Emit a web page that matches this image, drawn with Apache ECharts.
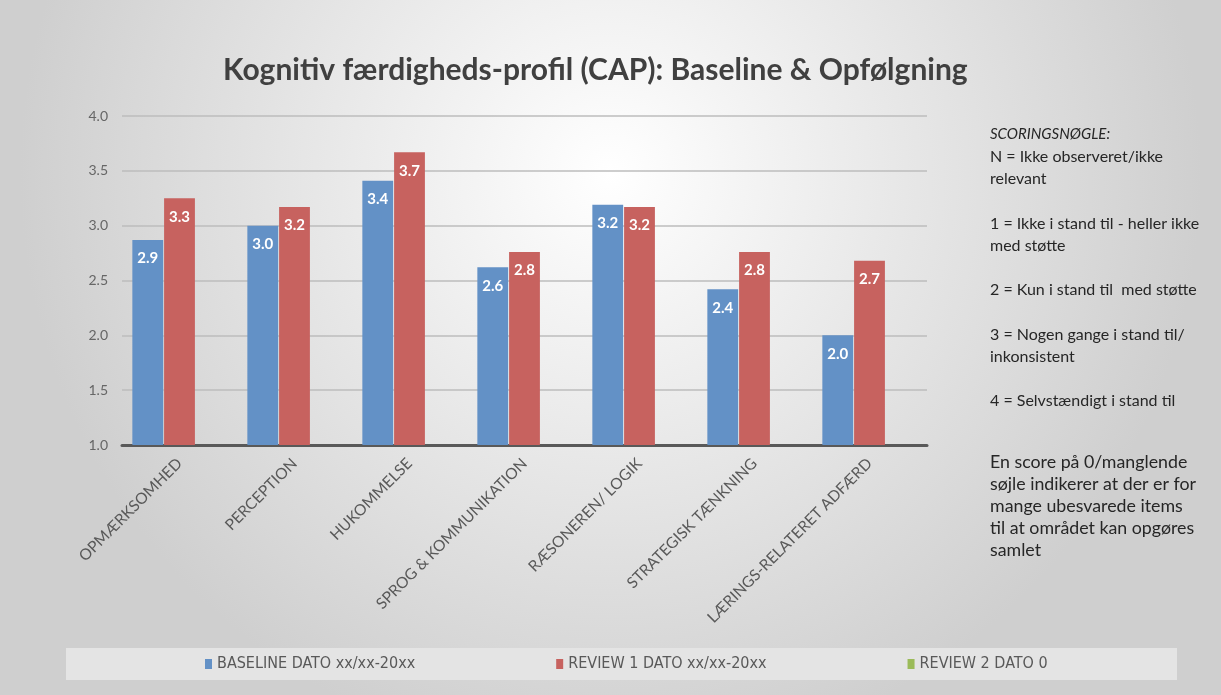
<!DOCTYPE html>
<html>
<head>
<meta charset="utf-8">
<script src="https://cdn.jsdelivr.net/npm/echarts@6/dist/echarts.min.js"></script>
<style>
html, body { margin: 0; padding: 0; }
#main { width: 1221px; height: 695px; }
</style>
</head>
<body>
<div id="main"></div>
<script>
var categories = ['OPMÆRKSOMHED', 'PERCEPTION', 'HUKOMMELSE', 'SPROG & KOMMUNIKATION',
    'RÆSONEREN/ LOGIK', 'STRATEGISK TÆNKNING', 'LÆRINGS-RELATERET ADFÆRD'];
var baseline = [2.87, 3.0, 3.41, 2.62, 3.19, 2.42, 2.0];
var review1 = [3.25, 3.17, 3.67, 2.76, 3.17, 2.76, 2.68];
var review2 = [null, null, null, null, null, null, null];
var seriesNames = ['BASELINE DATO xx/xx-20xx', 'REVIEW 1 DATO xx/xx-20xx', 'REVIEW 2 DATO 0'];
var yTicks = [1.0, 4.0, 0.5]; // min, max, interval

var keyLines = [
    'N = Ikke observeret/ikke',
    'relevant',
    '',
    '1 = Ikke i stand til - heller ikke',
    'med støtte',
    '',
    '2 = Kun i stand til  med støtte',
    '',
    '3 = Nogen gange i stand til/',
    'inkonsistent',
    '',
    '4 = Selvstændigt i stand til'
];
var noteLines = [
    'En score på 0/manglende',
    'søjle indikerer at der er for',
    'mange ubesvarede items',
    'til at området kan opgøres',
    'samlet'
];

var myChart = echarts.init(document.getElementById('main'));

var barLabel = {
    show: true,
    position: 'insideTop',
    distance: 11,
    color: '#fff',
    fontWeight: 'bold',
    fontSize: 15,
    fontFamily: 'Lato',
    formatter: function (p) { return p.value == null ? '' : p.value.toFixed(1); }
};

option = {
    backgroundColor: {
        type: 'radial', x: 0.5, y: 0.25, r: 0.85,
        colorStops: [
            {offset: 0, color: '#ffffff'},
            {offset: 1, color: '#cfcfcf'}
        ]
    },
    textStyle: { fontFamily: 'Lato' },
    title: {
        text: 'Kognitiv færdigheds-profil (CAP): Baseline & Opfølgning',
        left: 218,
        top: 50,
        textStyle: {
            fontFamily: 'Lato',
            fontSize: 30,
            fontWeight: 'bold',
            color: '#404040'
        }
    },
    legend: {
        bottom: 18,
        left: 200,
        itemWidth: 7,
        itemHeight: 10,
        itemGap: 141,
        icon: 'rect',
        textStyle: {
            fontFamily: 'DejaVu Sans Condensed',
            fontSize: 16,
            color: '#595959'
        },
        data: seriesNames
    },
    graphic: [
        {
            type: 'rect',
            z: -1,
            shape: {x: 66, y: 648, width: 1111, height: 32},
            style: {fill: '#e4e4e4'}
        },
        {
            type: 'text',
            left: 990, top: 127,
            style: {
                text: 'SCORINGSNØGLE:',
                font: 'italic 15px Lato',
                fill: '#262626'
            }
        },
        {
            type: 'text',
            left: 990, top: 146,
            style: {
                text: keyLines.join('\n'),
                font: '16px Lato',
                lineHeight: 22.2,
                fill: '#262626'
            }
        },
        {
            type: 'text',
            left: 990, top: 451,
            style: {
                text: noteLines.join('\n'),
                font: '17.8px Lato',
                lineHeight: 22,
                fill: '#262626'
            }
        }
    ],
    grid: {
        left: 122,
        right: 294,
        top: 116,
        bottom: 250
    },
    xAxis: {
        type: 'category',
        data: categories,
        axisTick: {show: false},
        axisLine: {lineStyle: {color: '#595959', width: 3}},
        axisLabel: {
            rotate: 45,
            interval: 0,
            margin: 16,
            fontSize: 15.5,
            color: '#595959'
        }
    },
    yAxis: {
        type: 'value',
        min: yTicks[0],
        max: yTicks[1],
        interval: yTicks[2],
        axisLine: {show: false},
        axisTick: {show: false},
        axisLabel: {
            margin: 14,
            fontSize: 14,
            color: '#666666',
            formatter: function (v) { return v.toFixed(1); }
        },
        splitLine: {lineStyle: {color: '#bdbdbd', width: 1.5}}
    },
    series: [
        {
            name: seriesNames[0],
            type: 'bar',
            data: baseline,
            barGap: '3%',
            barCategoryGap: '18%',
            itemStyle: {color: '#6391c6'},
            label: barLabel
        },
        {
            name: seriesNames[1],
            type: 'bar',
            data: review1,
            itemStyle: {color: '#c7625f'},
            label: barLabel
        },
        {
            name: seriesNames[2],
            type: 'bar',
            data: review2,
            itemStyle: {color: '#9bbb59'},
            label: barLabel
        }
    ]
};
myChart.setOption(option);
</script>
</body>
</html>
